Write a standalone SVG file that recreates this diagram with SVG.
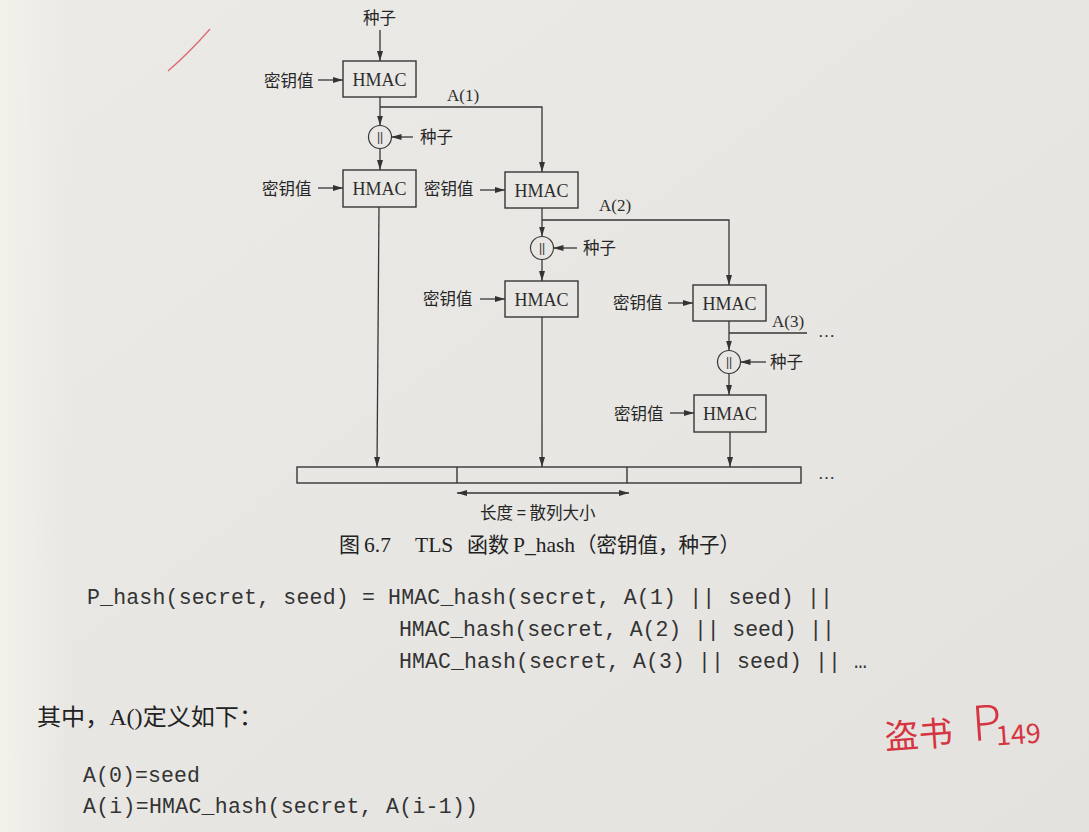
<svg xmlns="http://www.w3.org/2000/svg" width="1089" height="832" viewBox="0 0 1089 832">
  <defs>
    <linearGradient id="paper" x1="0" y1="0" x2="1" y2="1">
      <stop offset="0" stop-color="#ebeae7"/>
      <stop offset="0.55" stop-color="#e7e6e3"/>
      <stop offset="1" stop-color="#e3e2df"/>
    </linearGradient>
    <linearGradient id="edge" x1="0" y1="0" x2="1" y2="0">
      <stop offset="0" stop-color="#f3f1ea" stop-opacity="1"/>
      <stop offset="1" stop-color="#f3f1ea" stop-opacity="0"/>
    </linearGradient>
    <marker id="ah" viewBox="0 0 10 6" refX="10" refY="3" markerWidth="10" markerHeight="6" markerUnits="userSpaceOnUse" orient="auto">
      <path d="M0,0 L10,3 L0,6 Z" fill="#333"/>
    </marker>
    <marker id="ahs" viewBox="0 0 10 6" refX="0" refY="3" markerWidth="10" markerHeight="6" markerUnits="userSpaceOnUse" orient="auto">
      <path d="M10,0 L0,3 L10,6 Z" fill="#333"/>
    </marker>
    <style>
      .ln{fill:none;stroke:#363636;stroke-width:1.3}
      .ar{marker-end:url(#ah)}
      .box{fill:none;stroke:#363636;stroke-width:1.4}
      .op{fill:none;stroke:#363636;stroke-width:1.2}
      .hm{font-family:"Liberation Serif",serif;font-size:18px;fill:#2d2d2d;text-anchor:middle;dominant-baseline:central}
      .cjk{font-family:"Noto Sans CJK SC",sans-serif;font-size:16.5px;fill:#262626;dominant-baseline:central}
      .lat{font-family:"Liberation Serif",serif;font-size:17px;fill:#2d2d2d;dominant-baseline:central}
      .cat{font-family:"Liberation Sans",sans-serif;font-size:12px;fill:#333;text-anchor:middle;dominant-baseline:central}
      .bar{fill:none;stroke:#363636;stroke-width:1.4}
      .cap{font-family:"Noto Sans CJK SC",sans-serif;font-size:21px;fill:#222}
      .capl{font-family:"Liberation Serif",serif;font-size:21.5px;fill:#222}
      .code{font-family:"Liberation Mono",monospace;font-size:21.5px;fill:#333}
      .body{font-family:"Noto Sans CJK SC",sans-serif;font-size:23px;fill:#222}
      .red{fill:#d63440;font-family:"Noto Sans CJK SC",sans-serif}
    </style>
  </defs>

  <!-- page -->
  <rect width="1089" height="832" fill="url(#paper)"/>
  <rect width="70" height="832" fill="url(#edge)"/>

  <!-- pen marks on the page -->
  <path d="M168,71 Q190,52 210,29" fill="none" stroke="#d8505a" stroke-width="1.4" opacity="0.8"/>

  <!-- connectors -->
  <g id="connectors">
    <!-- column 1 -->
    <line class="ln ar" x1="380" y1="30" x2="380" y2="61"/>
    <line class="ln ar" x1="318" y1="80" x2="343" y2="80"/>
    <line class="ln ar" x1="380" y1="97" x2="380" y2="125.5"/>
    <polyline class="ln ar" points="380,107 542,107 542,172"/>
    <line class="ln ar" x1="413" y1="137" x2="391.5" y2="137"/>
    <line class="ln ar" x1="380" y1="148.5" x2="380" y2="170"/>
    <line class="ln ar" x1="318" y1="188" x2="343" y2="188"/>
    <line class="ln ar" x1="379" y1="207" x2="377" y2="467"/>
    <!-- column 2 -->
    <line class="ln ar" x1="480" y1="190" x2="505" y2="190"/>
    <line class="ln ar" x1="542" y1="208" x2="542" y2="236.5"/>
    <polyline class="ln ar" points="542,220 729,220 729,285"/>
    <line class="ln ar" x1="577" y1="248" x2="553.5" y2="248"/>
    <line class="ln ar" x1="542" y1="259.5" x2="542" y2="281"/>
    <line class="ln ar" x1="480" y1="299" x2="505" y2="299"/>
    <line class="ln ar" x1="542" y1="317" x2="542" y2="467"/>
    <!-- column 3 -->
    <line class="ln ar" x1="668" y1="303" x2="693" y2="303"/>
    <line class="ln ar" x1="729" y1="321" x2="729" y2="350.5"/>
    <line class="ln" x1="729" y1="333" x2="807" y2="333"/>
    <line class="ln ar" x1="766" y1="362" x2="740.5" y2="362"/>
    <line class="ln ar" x1="729" y1="373.5" x2="729" y2="395"/>
    <line class="ln ar" x1="670" y1="413" x2="694" y2="413"/>
    <line class="ln ar" x1="730" y1="432" x2="730" y2="467"/>
    <!-- block length -->
    <line class="ln" x1="457" y1="493" x2="629" y2="493" marker-start="url(#ahs)" marker-end="url(#ah)"/>
  </g>

  <!-- top seed input -->
  <g id="seed0">
    <text class="cjk" x="363" y="17">种子</text>
  </g>

  <!-- HMAC blocks -->
  <g id="hmac1">
    <rect class="box" x="343" y="61" width="73" height="36"/>
    <text class="hm" x="379.5" y="79.5">HMAC</text>
    <text class="cjk" x="264" y="80">密钥值</text>
  </g>
  <g id="hmac2">
    <rect class="box" x="343" y="170" width="73" height="37"/>
    <text class="hm" x="379.5" y="188.5">HMAC</text>
    <text class="cjk" x="262" y="188">密钥值</text>
  </g>
  <g id="hmac3">
    <rect class="box" x="505" y="172" width="73" height="36"/>
    <text class="hm" x="541.5" y="190.5">HMAC</text>
    <text class="cjk" x="424" y="188">密钥值</text>
  </g>
  <g id="hmac4">
    <rect class="box" x="505" y="281" width="73" height="36"/>
    <text class="hm" x="541.5" y="299.5">HMAC</text>
    <text class="cjk" x="423" y="298">密钥值</text>
  </g>
  <g id="hmac5">
    <rect class="box" x="693" y="285" width="73" height="36"/>
    <text class="hm" x="729.5" y="303.5">HMAC</text>
    <text class="cjk" x="613" y="302">密钥值</text>
  </g>
  <g id="hmac6">
    <rect class="box" x="694" y="395" width="72" height="37"/>
    <text class="hm" x="730" y="413.5">HMAC</text>
    <text class="cjk" x="614" y="413">密钥值</text>
  </g>

  <!-- concatenation with seed -->
  <g id="concat1">
    <circle class="op" cx="380" cy="137" r="11.5"/>
    <text class="cat" x="380" y="137">||</text>
    <text class="cjk" x="420" y="136">种子</text>
  </g>
  <g id="concat2">
    <circle class="op" cx="542" cy="248" r="11.5"/>
    <text class="cat" x="542" y="248">||</text>
    <text class="cjk" x="583" y="247">种子</text>
  </g>
  <g id="concat3">
    <circle class="op" cx="729" cy="362" r="11.5"/>
    <text class="cat" x="729" y="362">||</text>
    <text class="cjk" x="770" y="361">种子</text>
  </g>

  <!-- A(i) labels -->
  <g id="a-labels">
    <text class="lat" x="447" y="95">A(1)</text>
    <text class="lat" x="599" y="205">A(2)</text>
    <text class="lat" x="772" y="321">A(3)</text>
    <text class="lat" x="818" y="331" font-size="13">…</text>
  </g>

  <!-- output stream -->
  <g id="output">
    <rect class="bar" x="297" y="467" width="504" height="16"/>
    <line class="bar" x1="457" y1="467" x2="457" y2="483"/>
    <line class="bar" x1="627" y1="467" x2="627" y2="483"/>
    <text class="lat" x="818" y="473" font-size="13">…</text>
    <text class="cjk" x="480" y="512" font-size="17.5">长度 = 散列大小</text>
  </g>

  <!-- caption -->
  <g id="caption">
    <text class="cap" x="339" y="552">图</text>
    <text class="capl" x="364" y="552">6.7</text>
    <text class="capl" x="415" y="552">TLS</text>
    <text class="cap" x="467" y="552">函数</text>
    <text class="capl" x="513" y="552">P_hash</text>
    <text class="cap" x="576" y="552" textLength="164" lengthAdjust="spacingAndGlyphs">（密钥值，种子）</text>
  </g>

  <!-- P_hash expansion -->
  <g id="formula">
    <text class="code" x="87" y="604" textLength="746" lengthAdjust="spacing">P_hash(secret, seed) = HMAC_hash(secret, A(1) || seed) ||</text>
    <text class="code" x="399" y="636" textLength="436" lengthAdjust="spacing">HMAC_hash(secret, A(2) || seed) ||</text>
    <text class="code" x="399" y="668" textLength="468" lengthAdjust="spacing">HMAC_hash(secret, A(3) || seed) || …</text>
  </g>

  <!-- definition of A() -->
  <g id="definition">
    <text class="body" x="37" y="725" textLength="226" lengthAdjust="spacingAndGlyphs">其中，<tspan font-family="Liberation Serif, serif">A()</tspan>定义如下：</text>
    <text class="code" x="83" y="782" textLength="117" lengthAdjust="spacing">A(0)=seed</text>
    <text class="code" x="83" y="813" textLength="395" lengthAdjust="spacing">A(i)=HMAC_hash(secret, A(i-1))</text>
  </g>

  <!-- margin note -->
  <g id="note" transform="rotate(-4 960 725)">
    <text class="red" x="884" y="744" font-size="34">盗书</text>
    <text class="red" x="972" y="742" font-size="48" font-family="Liberation Sans, sans-serif" font-weight="300">P</text>
    <text class="red" x="995" y="748" font-size="27" font-family="Liberation Sans, sans-serif">149</text>
  </g>
</svg>
